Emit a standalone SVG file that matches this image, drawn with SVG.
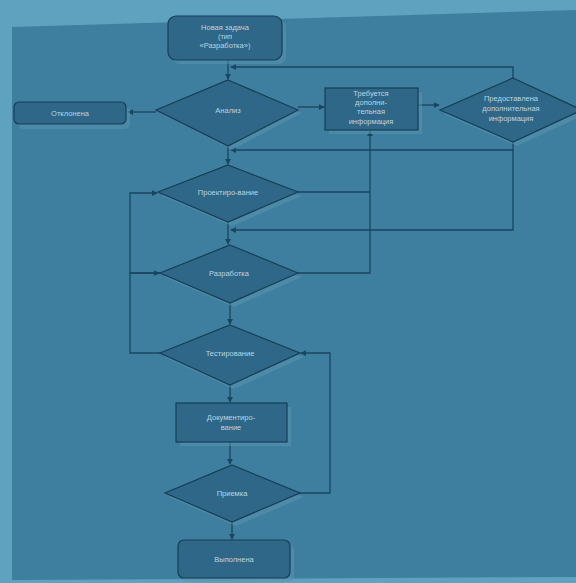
<svg xmlns="http://www.w3.org/2000/svg" width="576" height="583" viewBox="0 0 576 583">
<style>
.node{fill:#2e6787;stroke:#163e54;stroke-width:1.2}
.shadow{fill:#5a93ae;opacity:0.55}
.t{font-family:"Liberation Sans",Arial,sans-serif;font-size:7.5px;fill:#bcd4e0;text-anchor:middle}
.c{fill:none;stroke:#1a4560;stroke-width:1.3}
</style>
<defs>
<marker id="ah" viewBox="0 0 8 8" refX="7" refY="4" markerWidth="6" markerHeight="6" orient="auto" markerUnits="userSpaceOnUse">
<path d="M0,0 L8,4 L0,8 z" fill="#1a4560"/>
</marker>
</defs>
<rect x="0" y="0" width="576" height="583" fill="#5fa2bf"/>
<polygon points="12,27 576,10 576,577 12,580" fill="#3e7e9f"/>
<g id="connectors">
<path class="c" d="M228,60 V79" marker-end="url(#ah)"/>
<path class="c" d="M513,78 V67 H231" marker-end="url(#ah)"/>
<path class="c" d="M156,112 H128" marker-end="url(#ah)"/>
<path class="c" d="M298,107 H324" marker-end="url(#ah)"/>
<path class="c" d="M418,105 H439" marker-end="url(#ah)"/>
<path class="c" d="M513,142 V150 H231" marker-end="url(#ah)"/>
<path class="c" d="M513,150 V230 H231" marker-end="url(#ah)"/>
<path class="c" d="M228,146 V164" marker-end="url(#ah)"/>
<path class="c" d="M298,192 H370"/>
<path class="c" d="M298,273 H370 V131" marker-end="url(#ah)"/>
<path class="c" d="M228,222 V244" marker-end="url(#ah)"/>
<path class="c" d="M160,273 H130 V193 H157" marker-end="url(#ah)"/>
<path class="c" d="M160,353 H130 V273 H159" marker-end="url(#ah)"/>
<path class="c" d="M230,303 V324" marker-end="url(#ah)"/>
<path class="c" d="M230,385 V402" marker-end="url(#ah)"/>
<path class="c" d="M230,442 V464" marker-end="url(#ah)"/>
<path class="c" d="M300,493 H330 V353 H301" marker-end="url(#ah)"/>
<path class="c" d="M232,522 V539" marker-end="url(#ah)"/>
</g>
<g id="start">
<rect class="shadow" x="172" y="20" width="114" height="44" rx="8"/>
<rect class="node" x="168" y="16" width="114" height="44" rx="8"/>
<text class="t" x="225" y="30">Новая задача</text>
<text class="t" x="225" y="39">(тип</text>
<text class="t" x="225" y="48">«Разработка»)</text>
</g>
<g id="analysis">
<polygon class="shadow" points="232,84 302,113 232,150 160,113"/>
<polygon class="node" points="228,80 298,110 228,146 156,110"/>
<text class="t" x="228" y="113">Анализ</text>
</g>
<g id="rejected">
<rect class="shadow" x="18" y="107" width="112" height="22" rx="5"/>
<rect class="node" x="14" y="102" width="112" height="22" rx="5"/>
<text class="t" x="70" y="116">Отклонена</text>
</g>
<g id="need-info">
<rect class="shadow" x="329" y="92" width="93" height="42"/>
<rect class="node" x="325" y="88" width="93" height="42"/>
<text class="t" x="371" y="96">Требуется</text>
<text class="t" x="371" y="105">дополни-</text>
<text class="t" x="371" y="114">тельная</text>
<text class="t" x="371" y="124">информация</text>
</g>
<g id="info-given">
<polygon class="shadow" points="517,82 586,114 517,146 444,114"/>
<polygon class="node" points="513,78 582,110 513,142 440,110"/>
<text class="t" x="511" y="101">Предоставлена</text>
<text class="t" x="511" y="111">дополнительная</text>
<text class="t" x="511" y="121">информация</text>
</g>
<g id="design">
<polygon class="shadow" points="232,169 302,196 232,226 162,196"/>
<polygon class="node" points="228,165 298,192 228,222 158,192"/>
<text class="t" x="228" y="195">Проектиро-вание</text>
</g>
<g id="development">
<polygon class="shadow" points="234,249 302,277 234,307 164,277"/>
<polygon class="node" points="230,245 298,273 230,303 160,273"/>
<text class="t" x="229" y="276">Разработка</text>
</g>
<g id="testing">
<polygon class="shadow" points="234,329 304,357 234,389 164,357"/>
<polygon class="node" points="230,325 300,353 230,385 160,353"/>
<text class="t" x="230" y="356">Тестирование</text>
</g>
<g id="docs">
<rect class="shadow" x="180" y="407" width="111" height="39"/>
<rect class="node" x="176" y="403" width="111" height="39"/>
<text class="t" x="231" y="420">Документиро-</text>
<text class="t" x="231" y="430">вание</text>
</g>
<g id="acceptance">
<polygon class="shadow" points="236,469 304,497 236,526 169,497"/>
<polygon class="node" points="232,465 300,493 232,522 165,493"/>
<text class="t" x="232" y="496">Приемка</text>
</g>
<g id="done">
<rect class="shadow" x="182" y="544" width="112" height="38" rx="6"/>
<rect class="node" x="178" y="540" width="112" height="38" rx="6"/>
<text class="t" x="234" y="562">Выполнена</text>
</g>
</svg>
